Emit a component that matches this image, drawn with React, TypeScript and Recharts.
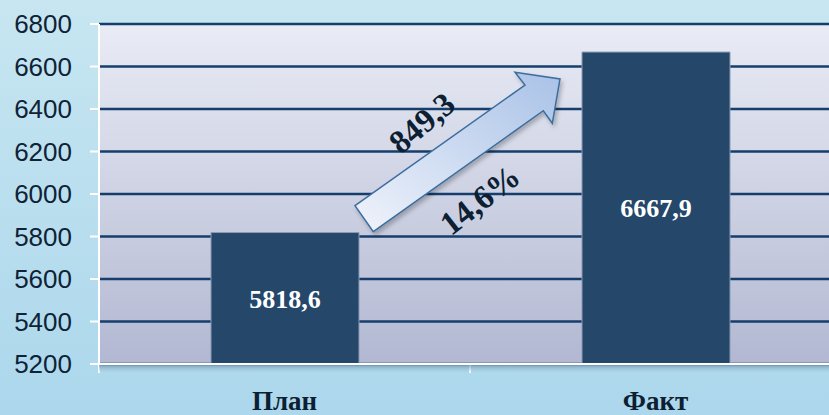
import React from 'react'
import { BarChart, Bar, XAxis, YAxis, CartesianGrid, LabelList } from 'recharts'

// ── Data ──────────────────────────────────────────────────────────────────────

const categories = ['План', 'Факт']
const values = [5818.6, 6667.9]
const valueLabels = ['5818,6', '6667,9']
const yTicks = [5200, 5400, 5600, 5800, 6000, 6200, 6400, 6600, 6800]
const deltaText = '849,3'
const deltaPctText = '14,6%'

const data = categories.map((name, i) => ({ name, value: values[i], label: valueLabels[i] }))

// ── Layout ────────────────────────────────────────────────────────────────────

const W = 829
const H = 415
const MARGIN = { top: 24, right: -12, left: 0, bottom: 0 }
const Y_WIDTH = 99
const X_HEIGHT = 51
const BAND = (W - Y_WIDTH - MARGIN.right) / categories.length

const SERIF = '"Liberation Serif", "Times New Roman", serif'
const SANS = '"Liberation Sans", Arial, sans-serif'

function CategoryTick(props: any) {
  const { x, y, payload, index } = props
  return (
    <g>
      <line x1={x - BAND / 2} x2={x - BAND / 2} y1={y} y2={y + 9} stroke="#fff" strokeWidth={2} />
      {index === categories.length - 1 && (
        <line x1={x + BAND / 2} x2={x + BAND / 2} y1={y} y2={y + 9} stroke="#fff" strokeWidth={2} />
      )}
      <text x={x} y={y + 46} textAnchor="middle" fill="#0d1f33"
        fontFamily={SERIF} fontWeight="bold" fontSize={27}>
        {payload.value}
      </text>
    </g>
  )
}

// arrow annotation between the bars
function Annotation() {
  return (
    <svg width={W} height={H} style={{ position: 'absolute', left: 0, top: 0, pointerEvents: 'none' }}>
      <defs>
        <linearGradient id="arrowGrad" x1="0" y1="1" x2="1" y2="0">
          <stop offset="0%" stopColor="#f0f3fb" />
          <stop offset="100%" stopColor="#a9c2e7" />
        </linearGradient>
        <linearGradient id="shadowGrad" x1="0" y1="0" x2="0" y2="1">
          <stop offset="0%" stopColor="#6f94ad" stopOpacity={0.8} />
          <stop offset="100%" stopColor="#acd7ec" stopOpacity={0} />
        </linearGradient>
        <filter id="arrowShadow" x="-10%" y="-10%" width="130%" height="130%">
          <feDropShadow dx="2" dy="3" stdDeviation="2" floodColor="#000" floodOpacity="0.25" />
        </filter>
      </defs>
      <rect x={Y_WIDTH} y={365} width={W - Y_WIDTH} height={9} fill="url(#shadowGrad)" />
      <polygon
        points="355,205.7 525,85 515,72.3 560,79 552.3,123.3 543.3,110.7 373.3,231.7"
        fill="url(#arrowGrad)" stroke="#3d6e9e" strokeWidth={1.5} filter="url(#arrowShadow)"
      />
      <text x={422} y={123} transform="rotate(-40 422 123)" textAnchor="middle" dominantBaseline="central"
        fontFamily={SERIF} fontWeight="bold" fontSize={33} fill="#0d1f33">
        {deltaText}
      </text>
      <text x={480} y={200} transform="rotate(-38 480 200)" textAnchor="middle" dominantBaseline="central"
        fontFamily={SERIF} fontWeight="bold" fontSize={33} fill="#0d1f33">
        {deltaPctText}
      </text>
    </svg>
  )
}

export default function App() {
  return (
    <div style={{
      position: 'absolute', left: 0, top: 0, width: W, height: H, overflow: 'hidden',
      background: 'linear-gradient(to bottom, #c7e6f1 0%, #acd7ec 100%)',
    }}>
      <BarChart width={W} height={H} data={data} margin={MARGIN} barSize={148}>
        <defs>
          <linearGradient id="plotGrad" x1="0" y1="0" x2="0" y2="1">
            <stop offset="0%" stopColor="#e9ecf5" />
            <stop offset="100%" stopColor="#b2b8d2" />
          </linearGradient>
        </defs>
        <CartesianGrid vertical={false} fill="url(#plotGrad)" fillOpacity={1}
          stroke="#163e6c" strokeWidth={2.5} />
        <XAxis
          dataKey="name"
          height={X_HEIGHT}
          axisLine={{ stroke: '#fff', strokeWidth: 2 }}
          tickLine={false}
          tickSize={0}
          tickMargin={0}
          tick={<CategoryTick />}
          interval={0}
        />
        <YAxis
          width={Y_WIDTH}
          domain={[5200, 6800]}
          ticks={yTicks}
          interval={0}
          allowDataOverflow
          axisLine={{ stroke: '#fff', strokeWidth: 2 }}
          tickLine={{ stroke: '#fff', strokeWidth: 2 }}
          tickSize={9}
          tickMargin={18}
          tick={{ fill: '#0f2236', fontSize: 26, fontFamily: SANS }}
        />
        <Bar dataKey="value" fill="#24476a" stroke="#8a9bb3" strokeWidth={1} isAnimationActive={false}>
          <LabelList dataKey="label" position="center" fill="#fff"
            style={{ fontFamily: SERIF, fontWeight: 'bold', fontSize: 26 }} />
        </Bar>
      </BarChart>
      <Annotation />
    </div>
  )
}
